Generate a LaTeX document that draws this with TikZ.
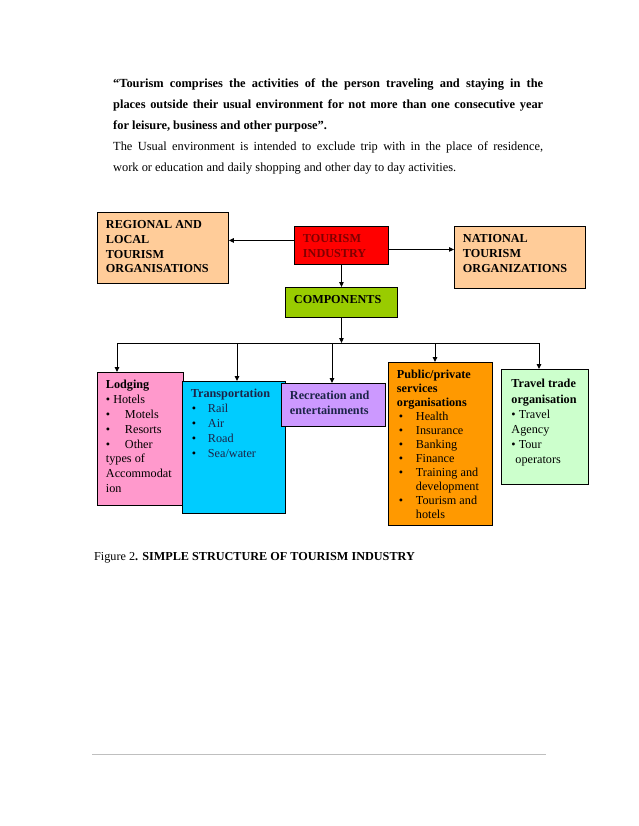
\documentclass[tikz,border=0pt]{standalone}
\usepackage{fontspec}
\setmainfont{Liberation Serif}
\usetikzlibrary{arrows.meta}
\definecolor{peach}{HTML}{FFCC99}
\definecolor{indred}{HTML}{FF0000}
\definecolor{indtext}{HTML}{800000}
\definecolor{compgreen}{HTML}{99CC00}
\definecolor{lodgpink}{HTML}{FF99CC}
\definecolor{transcyan}{HTML}{00CCFF}
\definecolor{recrlilac}{HTML}{CC99FF}
\definecolor{publorange}{HTML}{FF9900}
\definecolor{travmint}{HTML}{CCFFCC}
\definecolor{navytext}{HTML}{1C2448}
\setlength{\parindent}{0pt}
\newcommand{\cellpar}[3]{\parbox[t][#2][t]{#1}{#3}}

\begin{document}
\begin{tikzpicture}[x=1pt,y=-1pt]
\useasboundingbox (0,0) rectangle (638,826);
% definition
\node[anchor=north west, inner sep=0pt, text width=430pt, align=justify,
      font=\fontsize{12.4}{21}\selectfont] (defn) at (113,79)
  {\textbf{“Tourism comprises the activities of the person traveling and staying in the\linebreak
   places outside their usual environment for not more than one consecutive year\linebreak
   for leisure, business and other purpose”.}\par
   The Usual environment is intended to exclude trip with in the place of residence,\linebreak
   work or education and daily shopping and other day to day activities.};
\begin{scope}[every node/.style={draw,line width=0.9pt,anchor=north west,
              inner xsep=8.5pt,inner ysep=8pt,font=\fontsize{12.2}{14.8}\selectfont}]
    \node[fill=peach] (reg) at (97,212)
      {\cellpar{114pt}{55pt}{\bfseries REGIONAL AND\\LOCAL\\TOURISM\\ORGANISATIONS}};
    \node[fill=indred] (ind) at (294,226)
      {\cellpar{77pt}{22pt}{\color{indtext}\bfseries TOURISM\\INDUSTRY}};
    \node[fill=peach] (nat) at (454,226)
      {\cellpar{114pt}{46pt}{\bfseries NATIONAL\\TOURISM\\ORGANIZATIONS}};
    \node[fill=compgreen] (comp) at (285,287)
      {\cellpar{95pt}{14pt}{\bfseries COMPONENTS}};
    \node[fill=lodgpink] (lodg) at (97,372)
      {\cellpar{69pt}{117pt}{\textbf{Lodging}\\
        \textbullet\ Hotels\\
        \makebox[19pt][l]{\textbullet}Motels\\
        \makebox[19pt][l]{\textbullet}Resorts\\
        \makebox[19pt][l]{\textbullet}Other\\
        types of\\Accommodat\\ion}};
    \node[fill=transcyan] (trans) at (182,381)
      {\cellpar{86pt}{116pt}{\color{navytext}\textbf{Transportation}\\
        \makebox[17pt][l]{\hspace{1pt}\color{black}\textbullet}Rail\\
        \makebox[17pt][l]{\hspace{1pt}\color{black}\textbullet}Air\\
        \makebox[17pt][l]{\hspace{1pt}\color{black}\textbullet}Road\\
        \makebox[17pt][l]{\hspace{1pt}\color{black}\textbullet}Sea/water}};
    \node[fill=recrlilac] (recr) at (281,383)
      {\cellpar{87pt}{27pt}{\color{navytext}\bfseries Recreation and\\entertainments}};
    \node[fill=publorange,font=\fontsize{12.2}{14}\selectfont] (publ) at (388,362)
      {\cellpar{87pt}{147pt}{\textbf{Public/private\\services\\organisations}\\
        \makebox[19pt][l]{\hspace{2pt}\textbullet}Health\\
        \makebox[19pt][l]{\hspace{2pt}\textbullet}Insurance\\
        \makebox[19pt][l]{\hspace{2pt}\textbullet}Banking\\
        \makebox[19pt][l]{\hspace{2pt}\textbullet}Finance\\
        \makebox[19pt][l]{\hspace{2pt}\textbullet}Training and\\
        \hspace*{19pt}development\\
        \makebox[19pt][l]{\hspace{2pt}\textbullet}Tourism and\\
        \hspace*{19pt}hotels}};
    \node[fill=travmint,inner xsep=10pt,font=\fontsize{12.2}{15.2}\selectfont] (trav) at (501,369)
      {\cellpar{67pt}{99pt}{\vspace*{2pt}\textbf{Travel trade\\organisation}\\
        \textbullet\ Travel\\Agency\\
        \textbullet\ Tour\\
        \hspace*{4pt}operators}};
\end{scope}
\coordinate (bus) at (341,343);
\coordinate (bL) at (117,343);
\coordinate (bT) at (237,343);
\coordinate (bR) at (332,343);
\coordinate (bP) at (435,343);
\coordinate (bV) at (539,343);
\begin{scope}[>={Triangle[length=5pt,width=4.5pt]},
              every path/.style={line width=1pt}]
    \draw[->] ([yshift=5pt]ind.west) -- ([yshift=5pt]ind.west -| reg.east);
    \draw[->] ([yshift=-4pt]ind.east) -- ([yshift=-4pt]ind.east -| nat.west);
    \draw[->] (ind.south) -- (comp.north);
    \draw[->] (comp.south) -- (comp.south |- bus);
    \draw (bL) -- (bV);
    \draw[->] (bL) -- (bL |- lodg.north);
    \draw[->] (bT) -- (bT |- trans.north);
    \draw[->] (bR) -- (bR |- recr.north);
    \draw[->] (bP) -- (bP |- publ.north);
    \draw[->] (bV) -- (bV |- trav.north);
\end{scope}
\node[anchor=north west, inner sep=0pt, font=\fontsize{12.2}{14}\selectfont] (cap) at (94,552)
  {Figure 2\textbf{. SIMPLE STRUCTURE OF TOURISM INDUSTRY}};
\draw[black!25, line width=1pt] (92,754) -- (546,754);
\end{tikzpicture}
\end{document}
